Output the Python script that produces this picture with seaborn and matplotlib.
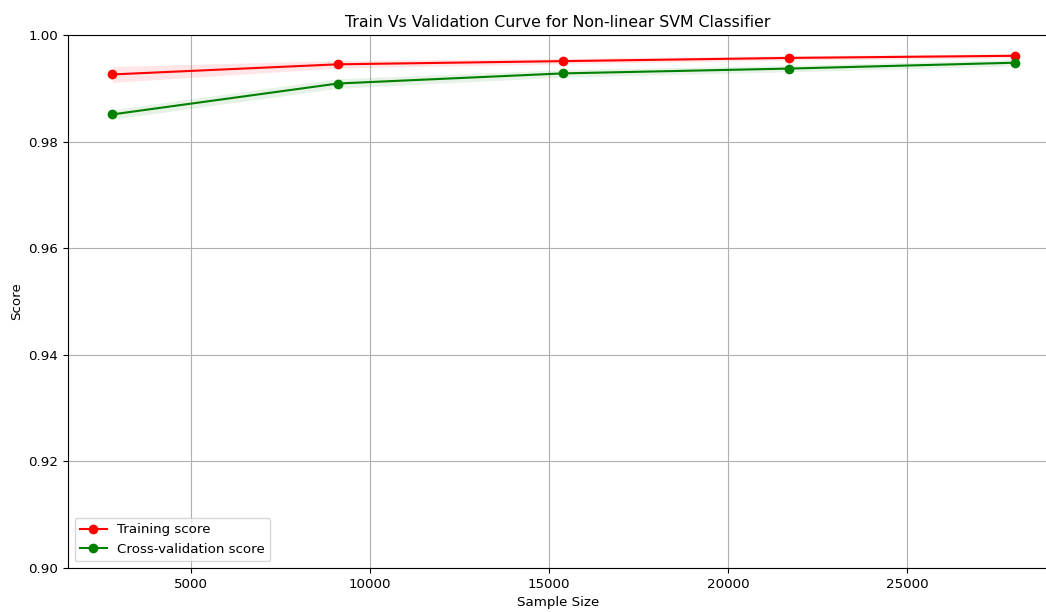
import matplotlib
matplotlib.use("Agg")
import matplotlib.pyplot as plt
import seaborn as sns
import numpy as np
import pandas as pd

sample_sizes = [2800, 9100, 15400, 21700, 28000]
train_mean = [0.9926, 0.9945, 0.9951, 0.9957, 0.9961]
train_std = [0.0015, 0.0007, 0.0005, 0.0004, 0.0004]
val_mean = [0.9851, 0.9909, 0.9928, 0.9937, 0.9948]
val_std = [0.0009, 0.0009, 0.0007, 0.0006, 0.0006]

plt.rcParams["font.size"] = 9.6

fig = plt.figure(figsize=(10.46, 6.12), dpi=100)
ax = fig.add_axes([68/1046, 44/612, (1048-68)/1046, (568-35)/612])

x = np.array(sample_sizes)
tm, ts = np.array(train_mean), np.array(train_std)
vm, vs = np.array(val_mean), np.array(val_std)

ax.fill_between(x, tm - ts, tm + ts, alpha=0.1, color="r", linewidth=0)
ax.fill_between(x, vm - vs, vm + vs, alpha=0.1, color="g", linewidth=0)

sns.lineplot(x=x, y=tm, ax=ax, color="r", marker="o", markersize=7,
             markeredgewidth=0, label="Training score", errorbar=None)
sns.lineplot(x=x, y=vm, ax=ax, color="g", marker="o", markersize=7,
             markeredgewidth=0, label="Cross-validation score", errorbar=None)

ax.set_xlim(1564, 28930)
ax.set_ylim(0.9, 1.0)
ax.set_yticks([0.90, 0.92, 0.94, 0.96, 0.98, 1.00])
ax.set_yticklabels(["0.90", "0.92", "0.94", "0.96", "0.98", "1.00"])
ax.grid(True)
ax.set_axisbelow(True)
ax.set_title("Train Vs Validation Curve for Non-linear SVM Classifier", fontsize=11.3)
ax.set_xlabel("Sample Size")
ax.set_ylabel("Score")
ax.legend(loc="lower left")

fig.savefig("out.png", dpi=100)
